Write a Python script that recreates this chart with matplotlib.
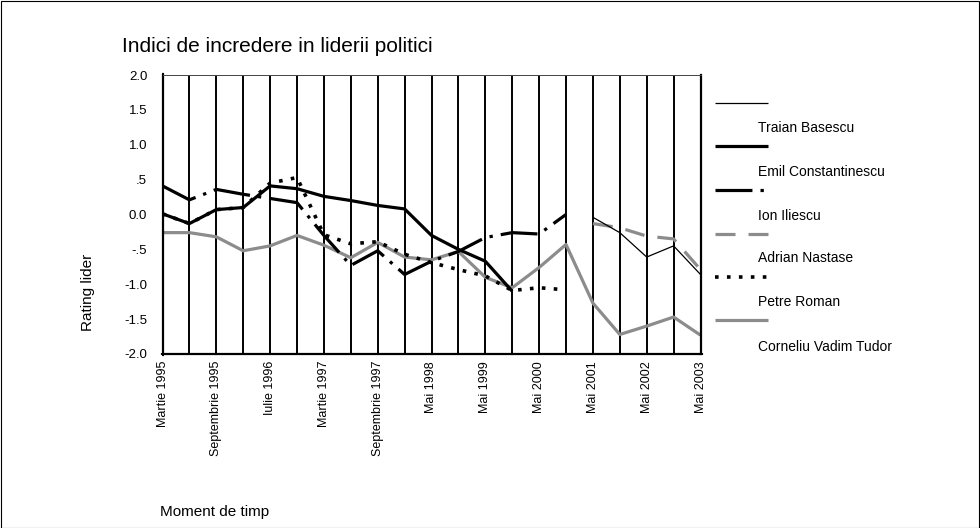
import numpy as np
import matplotlib
matplotlib.use("Agg")
import matplotlib.pyplot as plt
from matplotlib.lines import Line2D
from matplotlib.patches import Rectangle

plt.rcParams['font.family'] = ['Liberation Sans', 'DejaVu Sans']
plt.rcParams['lines.scale_dashes'] = False

nan = np.nan
n_points = 21
tick_positions = [0, 2, 4, 6, 8, 10, 12, 14, 16, 18, 20]
tick_labels = ["Martie 1995", "Septembrie 1995", "Iulie 1996", "Martie 1997",
               "Septembrie 1997", "Mai 1998", "Mai 1999", "Mai 2000",
               "Mai 2001", "Mai 2002", "Mai 2003"]

basescu = [nan]*16 + [-0.04, -0.26, -0.61, -0.45, -0.86]
constantinescu = [0.01, -0.13, 0.07, 0.10, 0.41, 0.37, 0.26, 0.20, 0.13, 0.08,
                  -0.30, -0.50, -0.67, -1.10] + [nan]*7
iliescu = [0.41, 0.21, 0.36, 0.29, 0.23, 0.17, -0.30, -0.73, -0.52, -0.86,
           -0.67, -0.53, -0.33, -0.26, -0.28, 0.0] + [nan]*5
nastase = [nan]*16 + [-0.13, -0.19, -0.31, -0.35, -0.79]
roman = [0.01, -0.13, 0.07, 0.10, 0.45, 0.53, -0.29, -0.42, -0.39, -0.57,
         -0.69, -0.79, -0.88, -1.09, -1.05, -1.08] + [nan]*5
tudor = [-0.26, -0.26, -0.32, -0.52, -0.45, -0.30, -0.44, -0.62, -0.40, -0.61,
         -0.65, -0.53, -0.90, -1.05, -0.76, -0.43, -1.27, -1.72, -1.60, -1.47, -1.73]

names = ["Traian Basescu", "Emil Constantinescu", "Ion Iliescu",
         "Adrian Nastase", "Petre Roman", "Corneliu Vadim Tudor"]

GRAY = "#8c8c8c"
styles = [
    dict(color="black", lw=0.9, ls="-"),
    dict(color="black", lw=2.3, ls="-"),
    dict(color="black", lw=2.3, ls=(0, (26.6, 5.8, 2.4, 5.8))),
    dict(color=GRAY, lw=2.3, ls=(0, (14.4, 9.4))),
    dict(color="black", lw=2.6, ls=(0, (2.6, 6.0))),
    dict(color=GRAY, lw=2.3, ls="-"),
]
series = [basescu, constantinescu, iliescu, nastase, roman, tudor]

W, H = 980, 528
fig = plt.figure(figsize=(W/100, H/100), dpi=100)
L, R, T, B = 162.5, 700.5, 75, 354
ax = fig.add_axes([L/W, 1 - B/H, (R-L)/W, (B-T)/H])

x = np.arange(n_points)
for i in [5, 1, 2, 4, 3, 0]:
    ax.plot(x, series[i], solid_capstyle='butt', dash_capstyle='butt', **styles[i])

ax.set_xlim(0, n_points - 1)
ax.set_ylim(-2.0, 2.0)
for xi in x[1:-1]:
    ax.axvline(xi, color="black", lw=1.4, zorder=0)

yt = [2.0, 1.5, 1.0, 0.5, 0.0, -0.5, -1.0, -1.5, -2.0]
ylabs = ["2.0", "1.5", "1.0", ".5", "0.0", "-.5", "-1.0", "-1.5", "-2.0"]
ax.set_yticks(yt)
ax.set_yticklabels(ylabs, fontsize=9.5)
ax.set_xticks(tick_positions)
ax.set_xticklabels(tick_labels, rotation=90, fontsize=9)
ax.tick_params(axis='both', length=2, width=3, color='black', direction='inout')
ax.tick_params(axis='y', pad=10)
ax.tick_params(axis='x', pad=4)

for s in ['left', 'bottom', 'right']:
    ax.spines[s].set_linewidth(1.6)
ax.spines['top'].set_linewidth(0.7)
ax.spines['top'].set_color('#444444')

fig.text(122/W, 1 - 46/H, "Indici de incredere in liderii politici", fontsize=15,
         ha='left', va='center')
fig.text(88/W, 1 - 292/H, "Rating lider", fontsize=11, rotation=90,
         ha='center', va='center')
fig.text(160/W, 1 - 512/H, "Moment de timp", fontsize=11, ha='left', va='center')

line_y = [103, 146, 190, 234, 277, 320]
text_y = [128, 172, 216, 258, 302, 347]
for i in range(6):
    st = dict(styles[i])
    fig.add_artist(Line2D([715/W, 768/W], [1 - line_y[i]/H, 1 - line_y[i]/H],
                          transform=fig.transFigure, color=st['color'], lw=st['lw'],
                          ls=st['ls'], solid_capstyle='butt', dash_capstyle='butt'))
    fig.text(758/W, 1 - text_y[i]/H, names[i], fontsize=10, ha='left', va='center')

fig.add_artist(Rectangle((0.5/W, 0.5/H), (W-1.5)/W, (H-1.5)/H, transform=fig.transFigure,
                         fill=False, edgecolor='black', lw=0.8))

fig.savefig("out.png", dpi=100)
